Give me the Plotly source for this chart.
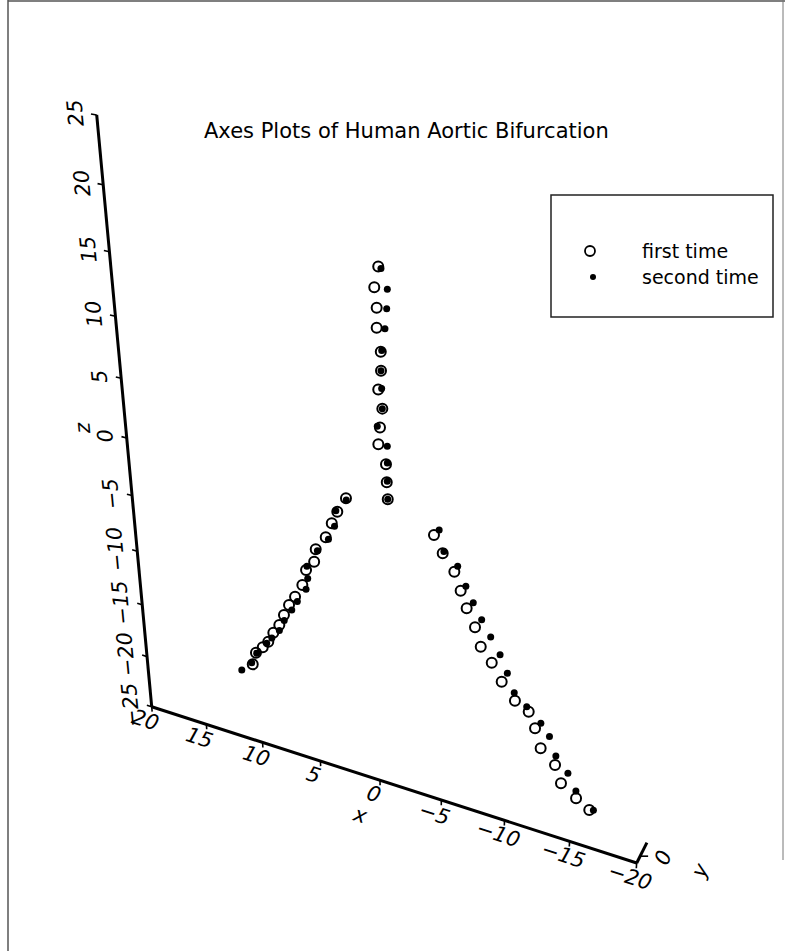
import numpy as np
import plotly.graph_objects as go

# ---------------- text ----------------
TITLE = "Axes Plots of Human Aortic Bifurcation"
SERIES_NAMES = ["first time", "second time"]
AXIS_NAMES = ["x", "y", "z"]

# ---------------- axes ----------------
X_LIM = [20, -20]
Z_LIM = [-25, 25]
Y_LIM = [-1, 2]
X_TICKS = [20, 15, 10, 5, 0, -5, -10, -15, -20]
Z_TICKS = [-25, -20, -15, -10, -5, 0, 5, 10, 15, 20, 25]
Y_TICKS = [0]

# ---------------- data: first time (open circles) ----------------
aorta1_x = [-0.43, -0.13, -0.28, -0.26, -0.53, -0.53, -0.31, -0.59, -0.40, -0.26, -0.81, -0.85, -0.91]
aorta1_z = [17.94, 16.41, 14.97, 13.51, 11.79, 10.37, 8.91, 7.51, 6.01, 4.66, 3.21, 1.79, 0.44]
left1_x = [2.27, 2.97, 3.43, 3.94, 4.77, 4.93, 5.61, 5.96, 6.60, 7.13, 7.59, 8.02, 8.56, 9.03, 9.53, 10.14, 10.48]
left1_z = [-0.37, -1.67, -2.77, -4.10, -5.37, -6.49, -7.41, -8.84, -10.07, -10.98, -12.03, -13.08, -13.96, -14.95, -15.64, -16.34, -17.56]
right1_x = [-4.34, -4.99, -5.86, -6.34, -6.80, -7.44, -7.89, -8.73, -9.50, -10.52, -11.56, -12.07, -12.54, -13.65, -14.15, -15.31, -16.32]
right1_z = [-1.52, -2.84, -4.11, -5.55, -6.89, -8.32, -9.84, -10.96, -12.36, -13.70, -14.31, -15.61, -17.25, -18.36, -19.86, -20.80, -21.49]

# ---------------- data: second time (filled dots) ----------------
aorta2_x = [-0.62, -1.05, -0.99, -0.85, -0.60, -0.53, -0.56, -0.59, -0.20, -0.92, -0.91, -0.89, -0.91]
aorta2_z = [17.83, 16.46, 15.04, 13.55, 11.91, 10.37, 9.04, 7.51, 6.06, 4.66, 3.34, 1.89, 0.44]
left2_x = [2.25, 3.08, 3.22, 3.73, 4.64, 5.53, 5.50, 5.67, 6.43, 6.92, 7.59, 8.04, 8.71, 9.17, 10.08, 10.56, 11.47]
left2_z = [-0.50, -1.62, -2.95, -4.21, -5.46, -7.06, -8.12, -9.13, -10.46, -11.36, -12.54, -13.60, -14.51, -15.14, -16.38, -17.44, -18.44]
right2_x = [-4.72, -5.08, -6.10, -6.72, -7.28, -7.92, -8.61, -9.33, -9.90, -10.45, -11.40, -12.48, -13.15, -13.68, -14.62, -15.27, -16.62]
right2_z = [-1.01, -2.67, -3.58, -5.06, -6.28, -7.51, -8.76, -10.07, -11.48, -13.01, -13.92, -15.02, -15.95, -17.53, -18.76, -20.14, -21.39]

# ---------------- page / camera ----------------
PAGE_W, PAGE_H = 785, 951
FONT = "DejaVu Sans"
TICK_FONT = dict(family=FONT, size=21, color="black", style="italic")


def project(x, z, y=None):
    """Perspective (homography) projection of the x-z plane onto the page."""
    x = np.asarray(x, float)
    z = np.asarray(z, float)
    s = X_LIM[0] - x
    t = z - Z_LIM[0]
    d = 1 - 0.002766 * s - 0.003362 * t
    u = (151.7 + 10.364 * s - 1.425 * t) / d
    v = (706.7 + 1.52 * s - 12.221 * t) / d
    if y is not None:
        yy = np.asarray(y, float) - Y_LIM[0]
        u = u + 3.4 * yy
        v = v - 6.8 * yy
    return u, v


def unit(du, dv):
    n = np.hypot(du, dv)
    return du / n, dv / n


fig = go.Figure()
ann = []

# ---- axis lines ----
zx, zy = project([X_LIM[0], X_LIM[0]], Z_LIM)
xx, xy = project(X_LIM, [Z_LIM[0], Z_LIM[0]])
yx, yy = project([X_LIM[1], X_LIM[1]], [Z_LIM[0], Z_LIM[0]], Y_LIM)
for ux, vy in [(zx, zy), (xx, xy), (yx, yy)]:
    fig.add_trace(go.Scatter(x=ux, y=vy, mode="lines", line=dict(color="black", width=3),
                             hoverinfo="skip", showlegend=False))

# ---- ticks & tick labels ----
tick_u, tick_v = [], []
for zt in Z_TICKS:
    u0, v0 = project(X_LIM[0], zt)
    u1, v1 = project(X_LIM[0] + 0.45, zt)
    tick_u += [float(u0), float(u1), None]
    tick_v += [float(v0), float(v1), None]
    a_u, a_v = project(X_LIM[0], zt + 0.5)
    b_u, b_v = project(X_LIM[0], zt - 0.5)
    du, dv = unit(a_u - b_u, a_v - b_v)          # upward along z axis
    px, py = dv, -du                               # perpendicular to the left
    lu = u0 + 21 * px + 4 * du
    lv = v0 + 21 * py + 4 * dv
    ang = np.degrees(np.arctan2(dv, du))
    lab = str(zt).replace("-", "\u2212")
    ann.append(dict(x=float(lu), y=float(lv), text=lab, showarrow=False, textangle=float(ang),
                    font=TICK_FONT, xanchor="center", yanchor="middle"))

for xt in X_TICKS:
    u0, v0 = project(xt, Z_LIM[0])
    u1, v1 = project(xt, Z_LIM[0] - 0.5)
    tick_u += [float(u0), float(u1), None]
    tick_v += [float(v0), float(v1), None]
    a_u, a_v = project(xt - 0.5, Z_LIM[0])
    b_u, b_v = project(xt + 0.5, Z_LIM[0])
    du, dv = unit(a_u - b_u, a_v - b_v)          # left-to-right along x axis
    px, py = -dv, du                               # perpendicular, downward
    lu = u0 + 15 * px - 2 * du
    lv = v0 + 15 * py - 2 * dv
    ang = np.degrees(np.arctan2(dv, du))
    lab = str(xt).replace("-", "\u2212")
    ann.append(dict(x=float(lu), y=float(lv), text=lab, showarrow=False, textangle=float(ang),
                    font=TICK_FONT, xanchor="center", yanchor="middle"))

for ytk in Y_TICKS:
    u0, v0 = project(X_LIM[1], Z_LIM[0], ytk)
    tick_u += [float(u0), float(u0) + 8, None]
    tick_v += [float(v0), float(v0), None]
    ann.append(dict(x=float(u0) + 23, y=float(v0) + 2, text=str(ytk), showarrow=False, textangle=-68,
                    font=TICK_FONT, xanchor="center", yanchor="middle"))

fig.add_trace(go.Scatter(x=tick_u, y=tick_v, mode="lines", line=dict(color="black", width=1.6),
                         hoverinfo="skip", showlegend=False))

# ---- axis titles ----
u0, v0 = project(X_LIM[0], 0)
ann.append(dict(x=float(u0) - 44, y=float(v0) - 10, text=AXIS_NAMES[2], showarrow=False, textangle=-95,
                font=TICK_FONT))
u0, v0 = project(0, Z_LIM[0])
ann.append(dict(x=float(u0) - 20, y=float(v0) + 35, text=AXIS_NAMES[0], showarrow=False, textangle=17,
                font=TICK_FONT))
u0, v0 = project(X_LIM[1], Z_LIM[0])
ann.append(dict(x=float(u0) + 63, y=float(v0) + 8, text=AXIS_NAMES[1], showarrow=False, textangle=-65,
                font=TICK_FONT))

# ---- data ----
first_x = aorta1_x + left1_x + right1_x
first_z = aorta1_z + left1_z + right1_z
second_x = aorta2_x + left2_x + right2_x
second_z = aorta2_z + left2_z + right2_z

u1, v1 = project(first_x, first_z)
fig.add_trace(go.Scatter(x=u1, y=v1, mode="markers", name=SERIES_NAMES[0],
                         marker=dict(symbol="circle-open", size=10, color="black", line=dict(width=2, color="black")),
                         showlegend=False))
u2, v2 = project(second_x, second_z)
fig.add_trace(go.Scatter(x=u2, y=v2, mode="markers", name=SERIES_NAMES[1],
                         marker=dict(symbol="circle", size=7, color="black"),
                         showlegend=False))

# ---- legend (drawn box) ----
LEG = dict(x0=551, y0=195, x1=773, y1=317)
fig.add_shape(type="rect", x0=LEG["x0"], y0=LEG["y0"], x1=LEG["x1"], y1=LEG["y1"],
              line=dict(color="#222", width=1.5), fillcolor="rgba(0,0,0,0)")
fig.add_trace(go.Scatter(x=[590], y=[251], mode="markers", hoverinfo="skip", showlegend=False,
                         marker=dict(symbol="circle-open", size=10, color="black", line=dict(width=1.8, color="black"))))
fig.add_trace(go.Scatter(x=[593], y=[277], mode="markers", hoverinfo="skip", showlegend=False,
                         marker=dict(symbol="circle", size=6, color="black")))
ann.append(dict(x=640, y=251, text=SERIES_NAMES[0], showarrow=False, xanchor="left", yanchor="middle",
                font=dict(family=FONT, size=19, color="black")))
ann.append(dict(x=640, y=277, text=SERIES_NAMES[1], showarrow=False, xanchor="left", yanchor="middle",
                font=dict(family=FONT, size=19, color="black")))

# ---- title ----
ann.append(dict(x=406, y=131, text=TITLE, showarrow=False, xanchor="center", yanchor="middle",
                font=dict(family=FONT, size=21, color="black")))

# ---- page frame ----
fig.add_shape(type="line", x0=8, y0=0, x1=8, y1=PAGE_H, line=dict(color="#555", width=1.5))
fig.add_shape(type="line", x0=8, y0=1, x1=PAGE_W, y1=1, line=dict(color="#555", width=1.5))
fig.add_shape(type="line", x0=783, y0=0, x1=783, y1=860, line=dict(color="#777", width=1))

for a in ann:
    a.setdefault("xref", "x")
    a.setdefault("yref", "y")
fig.update_layout(
    width=PAGE_W, height=PAGE_H,
    margin=dict(l=0, r=0, t=0, b=0),
    paper_bgcolor="white", plot_bgcolor="white",
    xaxis=dict(range=[0, PAGE_W], visible=False, fixedrange=True),
    yaxis=dict(range=[PAGE_H, 0], visible=False, fixedrange=True),
    annotations=ann,
    showlegend=False,
)
fig.write_html("out.html")
